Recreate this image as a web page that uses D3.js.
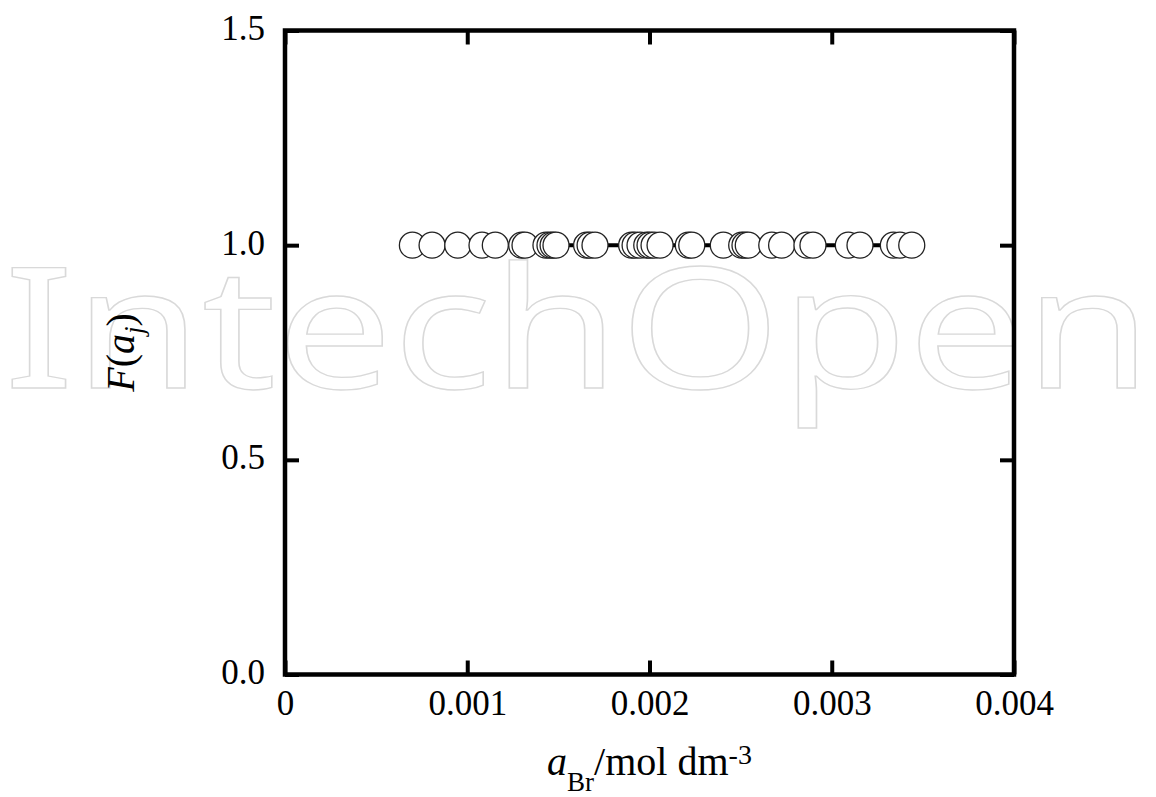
<!DOCTYPE html>
<html>
<head>
<meta charset="utf-8">
<script src="https://cdn.jsdelivr.net/npm/d3@7/dist/d3.min.js"></script>
<style>
  html, body { margin: 0; padding: 0; background: #fff; }
  svg { display: block; }
</style>
</head>
<body>
<svg id="chart" width="1156" height="797"></svg>
<script>
// ---- data ----
const aBr = [0.000699, 0.000807, 0.000948, 0.001081, 0.001154, 0.001299, 0.001317,
  0.001432, 0.001454, 0.001471, 0.001487, 0.001655, 0.001674, 0.001701,
  0.001902, 0.001921, 0.001948, 0.001985, 0.002003, 0.002025, 0.002058,
  0.002213, 0.002232, 0.002405, 0.002506, 0.002524, 0.002542, 0.002671,
  0.002725, 0.002864, 0.002897, 0.003091, 0.003155, 0.003338, 0.003374, 0.003439];
const Fa = [1.0, 1.0, 1.0, 1.0, 1.0, 1.0, 1.0,
  1.0, 1.0, 1.0, 1.0, 1.0, 1.0, 1.0,
  1.0, 1.0, 1.0, 1.0, 1.0, 1.0, 1.0,
  1.0, 1.0, 1.0, 1.0, 1.0, 1.0, 1.0,
  1.0, 1.0, 1.0, 1.0, 1.0, 1.0, 1.0, 1.0];
const xTicks = [0, 0.001, 0.002, 0.003, 0.004];
const xTickLabels = ["0", "0.001", "0.002", "0.003", "0.004"];
const yTicks = [0, 0.5, 1.0, 1.5];
const yTickLabels = ["0.0", "0.5", "1.0", "1.5"];

const serif = "'Liberation Serif', 'Times New Roman', serif";
const svg = d3.select("#chart");
const L = 285, R = 1014, T = 30.5, B = 674.5;
const x = d3.scaleLinear().domain([0, 0.004]).range([L, R]);
const y = d3.scaleLinear().domain([0, 1.5]).range([B, T]);

// watermark
svg.append("text")
  .attr("x", 4).attr("y", 388)
  .attr("textLength", 1148).attr("lengthAdjust", "spacingAndGlyphs")
  .style("font-family", "'Noto Sans', 'Open Sans', sans-serif")
  .style("font-weight", 400)
  .style("font-size", "168px")
  .style("fill", "none")
  .style("stroke", "#d9d9d9")
  .style("stroke-width", 1.3)
  .text("IntechOpen");

const tickLen = 14;
const tickStyle = g => {
  g.select(".domain").remove();
  g.selectAll(".tick line").attr("stroke", "#000").attr("stroke-width", 4);
  g.selectAll(".tick text").style("font-family", serif).style("font-size", "35px").style("fill", "#000");
};

// bottom axis
svg.append("g").attr("transform", `translate(0,${B})`)
  .call(d3.axisBottom(x).tickValues(xTicks).tickSizeInner(-tickLen).tickSizeOuter(0)
    .tickPadding(0).tickFormat((d, i) => xTickLabels[i]))
  .call(tickStyle)
  .call(g => g.selectAll(".tick text").attr("y", 40).attr("dy", 0));
// top axis (ticks only)
svg.append("g").attr("transform", `translate(0,${T})`)
  .call(d3.axisTop(x).tickValues(xTicks).tickSizeInner(-tickLen).tickSizeOuter(0).tickFormat(""))
  .call(tickStyle);
// left axis
svg.append("g").attr("transform", `translate(${L},0)`)
  .call(d3.axisLeft(y).tickValues(yTicks).tickSizeInner(-tickLen).tickSizeOuter(0)
    .tickPadding(0).tickFormat((d, i) => yTickLabels[i]))
  .call(tickStyle)
  .call(g => g.selectAll(".tick text").attr("x", -20).attr("dy", 0).attr("y", 9));
// right axis (ticks only)
svg.append("g").attr("transform", `translate(${R},0)`)
  .call(d3.axisRight(y).tickValues(yTicks).tickSizeInner(-tickLen).tickSizeOuter(0).tickFormat(""))
  .call(tickStyle);

// frame
svg.append("rect").attr("x", L).attr("y", T).attr("width", R - L).attr("height", B - T)
  .attr("fill", "none").attr("stroke", "#000").attr("stroke-width", 4.5);

// connecting line
const pts = aBr.map((d, i) => [d, Fa[i]]);
svg.append("path").datum(pts)
  .attr("d", d3.line().x(d => x(d[0])).y(d => y(d[1])))
  .attr("fill", "none").attr("stroke", "#000").attr("stroke-width", 4);

// markers
svg.append("g").selectAll("circle").data(pts).join("circle")
  .attr("cx", d => x(d[0])).attr("cy", d => y(d[1])).attr("r", 13)
  .attr("fill", "#fff").attr("stroke", "#222").attr("stroke-width", 1.3);

// axis titles
const xt = svg.append("text").attr("x", (L + R) / 2).attr("y", 775)
  .attr("text-anchor", "middle").style("font-family", serif).style("font-size", "40px");
xt.append("tspan").style("font-style", "italic").text("a");
xt.append("tspan").style("font-size", "27px").attr("dy", 16).text("Br");
xt.append("tspan").attr("dy", -16).text("/mol dm");
xt.append("tspan").style("font-size", "28px").attr("dy", -11).text("-3");

const yt = svg.append("text").attr("transform", `translate(134,${(T + B) / 2}) rotate(-90)`)
  .attr("text-anchor", "middle").style("font-family", serif).style("font-size", "40px");
yt.append("tspan").style("font-style", "italic").text("F");
yt.append("tspan").text("(");
yt.append("tspan").style("font-style", "italic").text("a");
yt.append("tspan").style("font-style", "italic").style("font-size", "27px").attr("dy", 9).text("j");
yt.append("tspan").attr("dy", -9).text(")");
</script>
</body>
</html>
